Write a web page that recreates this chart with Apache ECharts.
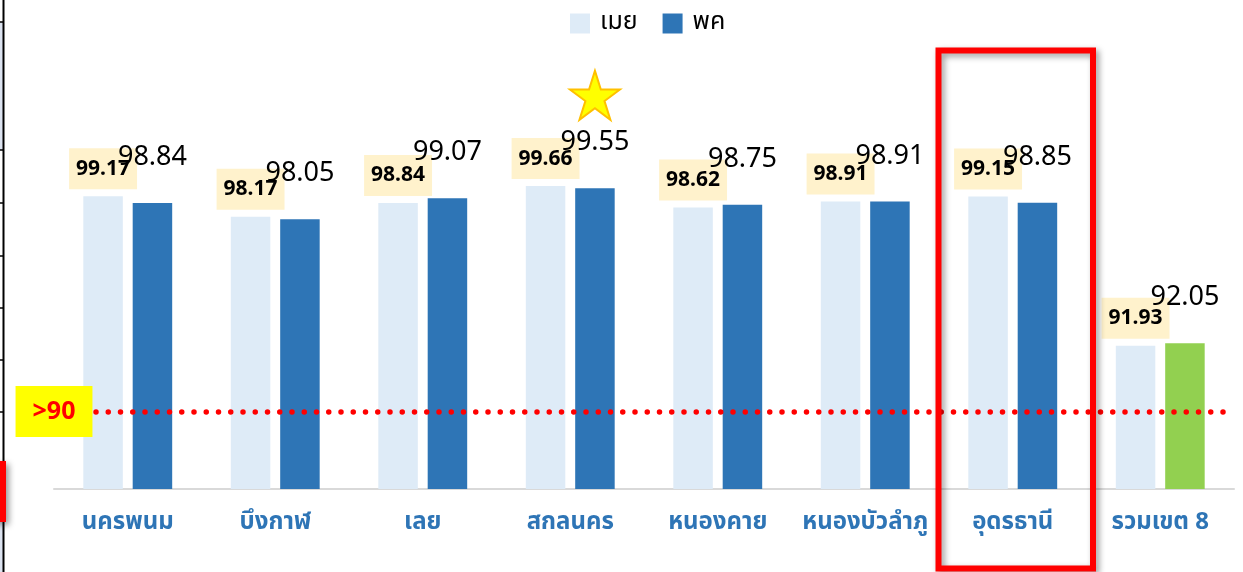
<!DOCTYPE html>
<html><head><meta charset="utf-8">
<script src="https://cdn.jsdelivr.net/npm/echarts@6/dist/echarts.min.js"></script>
<style>html,body{margin:0;padding:0;background:#fff}#c{width:1243px;height:572px}</style>
</head><body><div id="c"></div>
<script>
const categories = ['นครพนม','บึงกาฬ','เลย','สกลนคร','หนองคาย','หนองบัวลำภู','อุดรธานี','รวมเขต 8'];
const aprilValues = [99.17, 98.17, 98.84, 99.66, 98.62, 98.91, 99.15, 91.93];
const mayValues = [98.84, 98.05, 99.07, 99.55, 98.75, 98.91, 98.85, 92.05];
const seriesNames = ['เมย', 'พค'];
const thresholdValue = 88.75;
const thresholdLabel = '>90';
const starCategoryIndex = 3;

const THAI = '"Noto Sans Thai","Noto Sans","DejaVu Sans",sans-serif';
const chart = echarts.init(document.getElementById('c'), null, {renderer: 'canvas'});
const starPath = 'path://M50 0 L61.23 34.55 L97.55 34.55 L68.17 55.9 L79.39 90.45 L50 69.1 L20.61 90.45 L31.83 55.9 L2.45 34.55 L38.77 34.55 Z';

const mayData = mayValues.map((v, i) => i === mayValues.length - 1
  ? {value: v, itemStyle: {color: '#92D050'}} : v);

const ticksY = [22, 150, 203, 256, 308, 360, 412];
const graphics = [
  {type: 'rect', shape: {x: 0, y: 22, width: 3, height: 128}, style: {fill: '#DCE3F0'}, silent: true},
  {type: 'rect', shape: {x: 0, y: 521, width: 3, height: 51}, style: {fill: '#DCE3F0'}, silent: true},
  {type: 'line', shape: {x1: 3.5, y1: 0, x2: 3.5, y2: 572}, style: {stroke: '#000', lineWidth: 2}, silent: true},
  ...ticksY.map(y => ({type: 'line', shape: {x1: 0, y1: y, x2: 4, y2: y}, style: {stroke: '#000', lineWidth: 1.5}, silent: true})),
  {type: 'rect', shape: {x: -3, y: 464, width: 6, height: 55}, style: {fill: 'none', stroke: '#FF0000', lineWidth: 6, shadowBlur: 6, shadowColor: 'rgba(0,0,0,0.4)', shadowOffsetX: 3, shadowOffsetY: 3}, silent: true},
  {type: 'rect', z: 100, shape: {x: 938.5, y: 50.5, width: 154.5, height: 518}, style: {fill: 'none', stroke: '#FF0000', lineWidth: 6, shadowBlur: 6, shadowColor: 'rgba(0,0,0,0.4)', shadowOffsetX: 3, shadowOffsetY: 3}, silent: true}
];

chart.setOption({
  animation: false,
  backgroundColor: '#fff',
  legend: {
    data: seriesNames, left: 565, top: 6, itemWidth: 20, itemHeight: 20, itemGap: 25,
    icon: 'rect',
    textStyle: {fontSize: 25, color: '#000', fontFamily: THAI, padding: [0, 0, 0, 5]}
  },
  grid: {left: 54, right: 9, top: 179, bottom: 83, containLabel: false},
  xAxis: {
    type: 'category', data: categories,
    axisLine: {lineStyle: {color: '#D9D9D9', width: 2}},
    axisTick: {show: false},
    axisLabel: {color: '#2E75B6', fontWeight: 'bold', fontSize: 24, fontFamily: THAI, margin: 23, interval: 0}
  },
  yAxis: {type: 'value', min: 85, max: 100, show: false, splitLine: {show: false}},
  series: [
    {
      name: seriesNames[0], type: 'bar', data: aprilValues, barWidth: 39.5, barGap: '25%',
      itemStyle: {color: '#DEEBF7'},
      label: {
        show: true, position: 'top', distance: 7,
        color: '#000', fontWeight: 'bold', fontSize: 21, fontFamily: '"Noto Sans",sans-serif',
        lineHeight: 21, backgroundColor: '#FFF2CC', padding: [10, 7],
        formatter: p => p.value.toFixed(2)
      }
    },
    {
      name: seriesNames[1], type: 'bar', data: mayData, barWidth: 39.5, barGap: '25%',
      itemStyle: {color: '#2E75B6'},
      label: {
        show: true, position: 'top', distance: 32,
        color: '#000', fontSize: 27, fontFamily: '"Noto Sans",sans-serif', lineHeight: 27,
        formatter: p => (typeof p.value === 'number' ? p.value : p.data.value).toFixed(2)
      },
      markPoint: {
        symbol: starPath, symbolSize: [50, 49], symbolOffset: [0, -93],
        itemStyle: {color: '#FFFF00', borderColor: '#FFC000', borderWidth: 2},
        label: {show: false},
        data: [{coord: [categories[starCategoryIndex], mayValues[starCategoryIndex]]}]
      },
      markLine: {
        silent: true, symbol: ['none', 'none'],
        lineStyle: {color: '#FF0000', width: 5.5, type: [0, 12.25], cap: 'round', dashOffset: 7},
        label: {
          show: true, position: 'start', distance: 0, align: 'center',
          formatter: thresholdLabel, color: '#FF0000', fontWeight: 'bold', fontSize: 25,
          fontFamily: '"Noto Sans",sans-serif', lineHeight: 25,
          backgroundColor: '#FFFF00', padding: [13, 17]
        },
        data: [{yAxis: thresholdValue}]
      }
    }
  ],
  graphic: graphics
});
</script></body></html>
